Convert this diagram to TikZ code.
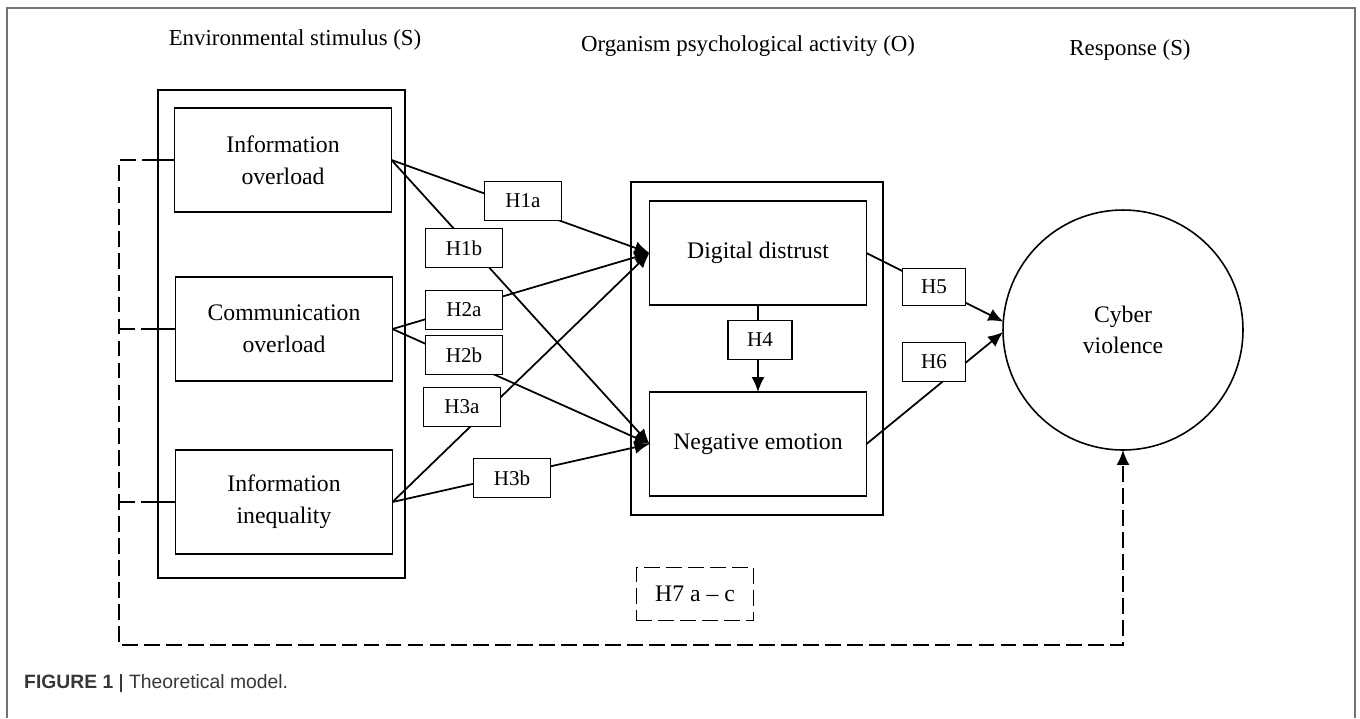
\documentclass[tikz,border=0pt]{standalone}
\usepackage{fontspec}
\setmainfont{Liberation Serif}
\newfontfamily\capfont{Liberation Sans}
\usetikzlibrary{arrows.meta}
\definecolor{frame_gray}{RGB}{115, 115, 115}
\definecolor{caption_gray}{RGB}{55, 55, 55}
\tikzstyle{groupbox} = [rectangle, draw=black, line width=1pt, inner sep=0pt, outer sep=0pt]
\tikzstyle{factor} = [rectangle, minimum width=4.34cm, minimum height=2.08cm, text centered, align=center, draw=black, line width=1pt, fill=white, inner sep=0pt, outer sep=0pt, font=\fontsize{13.5}{18}\selectfont]
\tikzstyle{hypo} = [rectangle, minimum width=1.54cm, minimum height=0.78cm, text centered, draw=black, line width=0.9pt, fill=white, inner sep=0pt, font=\fontsize{12}{14}\selectfont]
\tikzstyle{outcome} = [circle, minimum size=4.8cm, text centered, align=center, draw=black, line width=0.9pt, inner sep=0pt, outer sep=0pt, font=\fontsize{13.5}{18}\selectfont]
\tikzstyle{heading} = [font=\fontsize{13}{16}\selectfont]
\tikzstyle{arrow} = [line width=1pt, -{Latex[length=3mm, width=2.6mm]}]
\tikzstyle{link} = [line width=1pt]
\tikzstyle{dashlink} = [line width=1pt, dash pattern=on 9pt off 3.5pt]

\begin{document}
\begin{tikzpicture}[x=0.02cm, y=-0.02cm]
        \useasboundingbox (0,0) rectangle (1360,718);
        \draw [frame_gray, line width=1.2pt] (7,718) -- (7,8) -- (1355,8) -- (1355,718);

        \node (stimulus) [heading] at (295,40) {Environmental stimulus (S)};
        \node (organism) [heading] at (748,46) {Organism psychological activity (O)};
        \node (response) [heading] at (1130,50) {Response (S)};

        \node (envbox) [groupbox, minimum width=4.94cm, minimum height=9.76cm] at (281.5,334) {};
        \node (orgbox) [groupbox, minimum width=5.04cm, minimum height=6.66cm] at (757,348.5) {};

        \node (infoover) [factor] at (283,160) {Information\\overload};
        \node (commover) [factor] at (284,329) {Communication\\overload};
        \node (infoineq) [factor] at (284,502) {Information\\inequality};

        \node (distrust) [factor] at (758,253) {Digital distrust};
        \node (negemo) [factor] at (758,444) {Negative emotion};

        \node (cyber) [outcome] at (1123,330) {Cyber\\violence};

        \coordinate (rail) at (119,645);

        \draw [arrow] (infoover.east) -- (distrust.west);
        \draw [arrow] (infoover.east) -- (negemo.west);
        \draw [arrow] (commover.east) -- (distrust.west);
        \draw [arrow] (commover.east) -- (negemo.west);
        \draw [arrow] (infoineq.east) -- (distrust.west);
        \draw [arrow] (infoineq.east) -- (negemo.west);
        \draw [arrow] (distrust.south) -- (negemo.north);
        \draw [arrow] (distrust.east) -- (cyber.176);
        \draw [arrow] (negemo.east) -- (cyber.181);

        % control paths
        \draw [dashlink, -{Latex[length=3mm, width=2.6mm]}] (envbox.west |- infoover.west) -- (rail |- infoover.west) -- (rail) -- (rail -| cyber.south) -- (cyber.south);
        \draw [dashlink] (rail |- commover.west) -- (envbox.west |- commover.west);
        \draw [dashlink] (rail |- infoineq.west) -- (envbox.west |- infoineq.west);
        \draw [link] (envbox.west |- infoover.west) -- (infoover.west);
        \draw [link] (envbox.west |- commover.west) -- (commover.west);
        \draw [link] (envbox.west |- infoineq.west) -- (infoineq.west);

        \node (h1a) [hypo] at (523,201) {H1a};
        \node (h1b) [hypo] at (464,248) {H1b};
        \node (h2a) [hypo] at (464,310) {H2a};
        \node (h2b) [hypo] at (464,355) {H2b};
        \node (h3a) [hypo] at (462,407) {H3a};
        \node (h3b) [hypo] at (512,478) {H3b};
        \node (h4) [hypo, minimum width=1.28cm] at (760,340) {H4};
        \node (h5) [hypo, minimum width=1.26cm, minimum height=0.74cm] at (934,287) {H5};
        \node (h6) [hypo, minimum width=1.26cm] at (934,362) {H6};
        \node (h7) [hypo, dashlink, minimum width=2.34cm, minimum height=1.06cm, font=\fontsize{13.5}{16}\selectfont] at (695,594) {H7 a -- c};

        \node (caption) [anchor=west, font=\capfont\fontsize{11}{13}\selectfont] at (18,684) {\textbf{\color{caption_gray}FIGURE 1} | {\color{caption_gray}Theoretical model.}};
    \end{tikzpicture}
\end{document}
